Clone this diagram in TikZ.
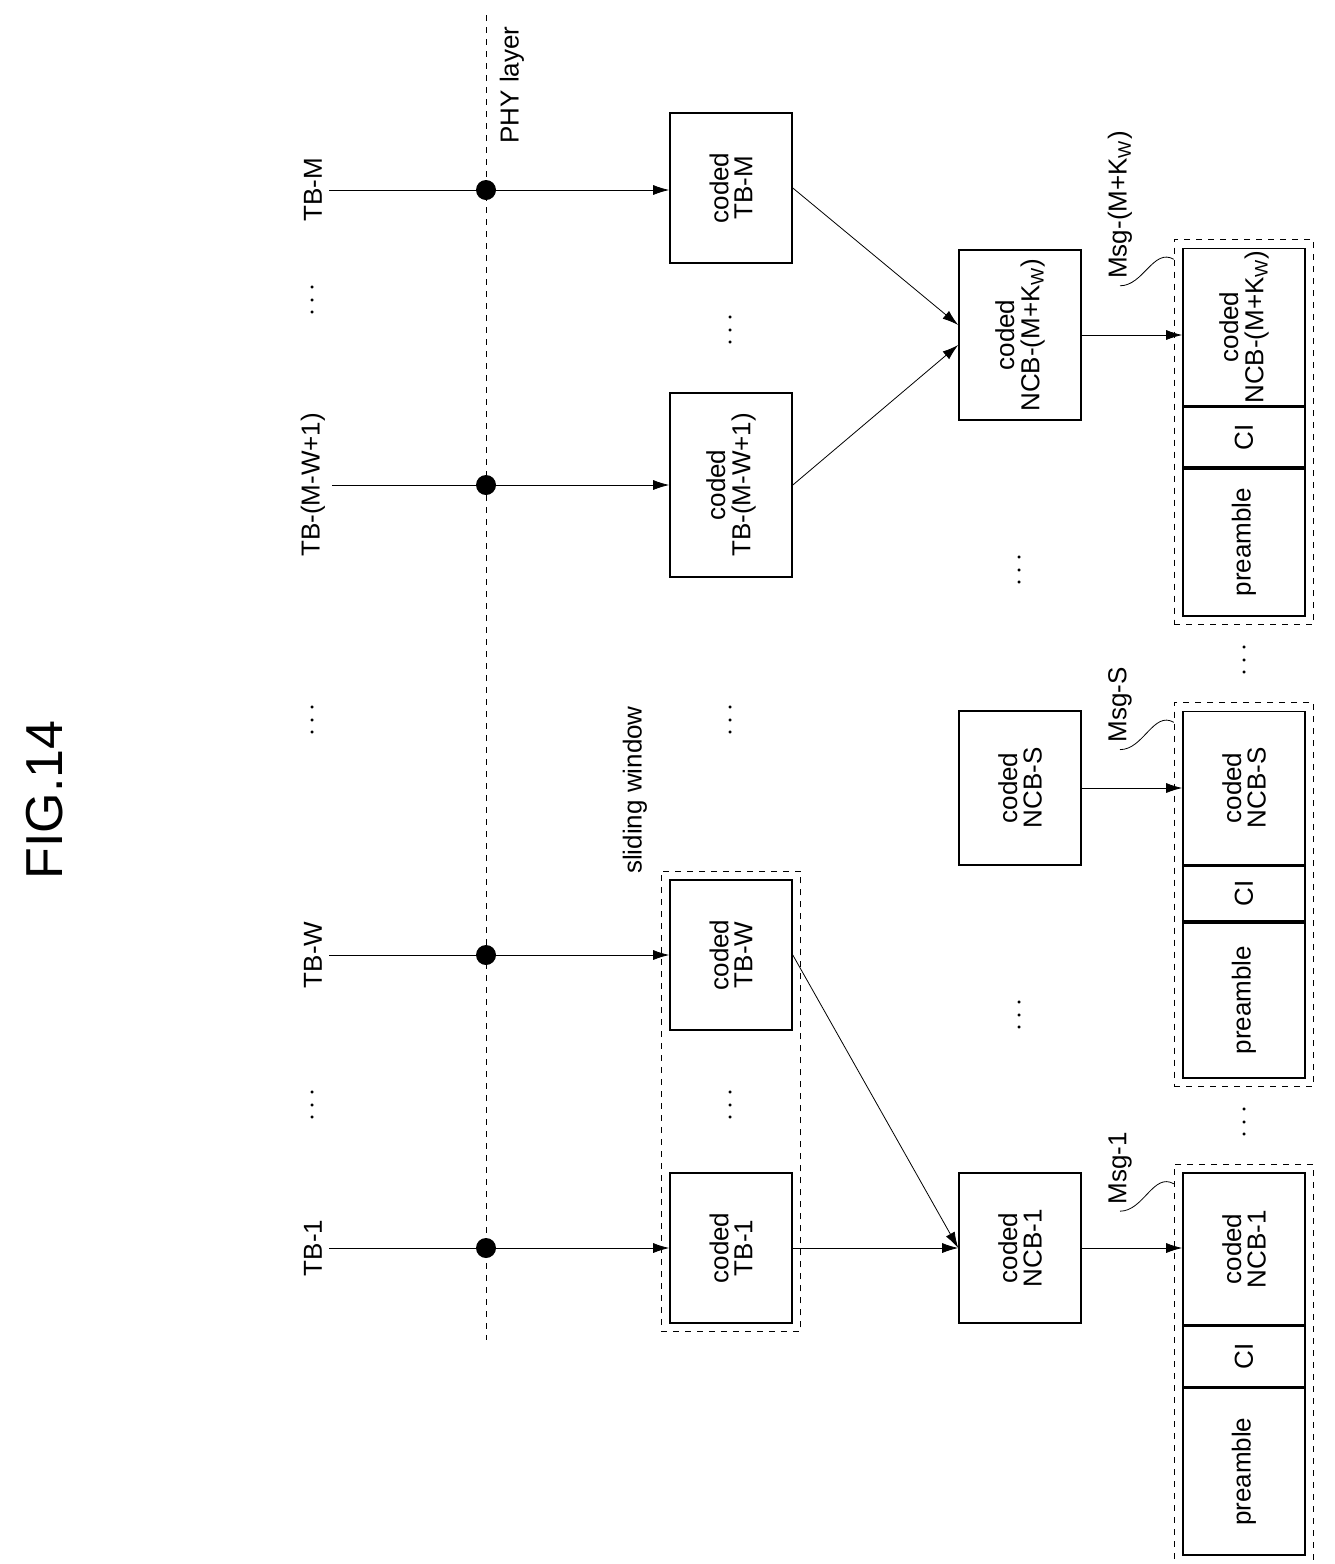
\documentclass[tikz,border=0pt]{standalone}
\usepackage{fontspec}
\setmainfont{Liberation Sans}
\usetikzlibrary{positioning,fit,arrows.meta}
\tikzset{
  box/.style={draw,thick,minimum width=61pt,inner sep=0pt,font=\fontsize{13}{14}\selectfont},
  seg/.style={draw,thick,minimum width=61pt,inner sep=0pt,font=\fontsize{13}{14}\selectfont},
  arr/.style={-{Latex[length=8pt,width=5pt]}},
  win/.style={draw,dashed,inner sep=4pt},
  lbl/.style={font=\fontsize{13}{14}\selectfont,rotate=90},
  vdots/.style={font=\fontsize{14}{14}\selectfont,rotate=90},
}
\newcommand{\rt}[1]{\rotatebox{90}{\shortstack{#1}}}
\begin{document}
\begin{tikzpicture}[x=0.5pt,y=-0.5pt]
  \useasboundingbox (0,0) rectangle (1334,1564);
  \node[font=\fontsize{26}{26}\selectfont,rotate=90] (fig) at (45,800) {FIG.14};
  % PHY layer
  \coordinate (phytop) at (486,15);
  \coordinate (phybot) at (486,1340);
  \draw[dashed] (phytop) -- (phybot);
  \node[lbl] (phy) at (512,85) {PHY layer};
  % transport blocks
  \node[lbl] (tbm) at (313,190) {TB-M};
  \node[vdots] at (313,300) {$\cdots$};
  \node[lbl] (tbw1) at (313,485) {TB-(M-W+1)};
  \node[vdots] at (313,720) {$\cdots$};
  \node[lbl] (tbw) at (313,955) {TB-W};
  \node[vdots] at (313,1105) {$\cdots$};
  \node[lbl] (tb1) at (313,1248) {TB-1};
  % coded TBs
  \node[box,minimum height=75pt] (ctbm) at (731,188) {\rt{coded\\TB-M}};
  \node[box,minimum height=92pt] (ctbw1) at (731,485) {\rt{coded\\TB-(M-W+1)}};
  \node[box,minimum height=75pt] (ctbw) at (731,955) {\rt{coded\\TB-W}};
  \node[box,minimum height=75pt] (ctb1) at (731,1248) {\rt{coded\\TB-1}};
  \node[vdots] at (731,330) {$\cdots$};
  \node[vdots] at (731,720) {$\cdots$};
  \node[vdots] at (731,1105) {$\cdots$};
  \node[win,fit=(ctbw)(ctb1)] (window) {};
  \node[lbl] (winlbl) at (635,790) {sliding window};
  \foreach \s/\t/\y in {tbm/ctbm/190,tbw1/ctbw1/485,tbw/ctbw/955,tb1/ctb1/1248}{
    \draw[arr] (\s.south) -- (\s.south -| \t.west);
    \fill (486,\y) circle[radius=5pt];
  }
  % coded NCBs
  \node[box,minimum height=85pt] (ncbm) at (1020,335) {\rt{coded\\NCB-(M+K$_\mathrm{W}$)}};
  \node[box,minimum height=77pt] (ncbs) at (1020,788) {\rt{coded\\NCB-S}};
  \node[box,minimum height=75pt] (ncb1) at (1020,1248) {\rt{coded\\NCB-1}};
  \node[vdots] at (1020,570) {$\cdots$};
  \node[vdots] at (1020,1015) {$\cdots$};
  \draw[arr] (ctbm.east) -- ([yshift=5pt]ncbm.west);
  \draw[arr] (ctbw1.east) -- ([yshift=-5pt]ncbm.west);
  \draw[arr] (ctbw.east) -- (ncb1.west);
  \draw[arr] (ctb1.east) -- (ncb1.west);
  % messages
  \node[seg,minimum height=78.5pt] (msgm) at (1244,327) {\rt{coded\\NCB-(M+K$_\mathrm{W}$)}};
  \node[seg,minimum height=30pt,below=0pt of msgm] (cim) {\rotatebox{90}{CI}};
  \node[seg,minimum height=73.5pt,below=0pt of cim] (prem) {\rotatebox{90}{preamble}};
  \node[seg,minimum height=76.5pt] (msgs) at (1244,788) {\rt{coded\\NCB-S}};
  \node[seg,minimum height=27.5pt,below=0pt of msgs] (cis) {\rotatebox{90}{CI}};
  \node[seg,minimum height=77.5pt,below=0pt of cis] (pres) {\rotatebox{90}{preamble}};
  \node[seg,minimum height=76pt] (msg1) at (1244,1249) {\rt{coded\\NCB-1}};
  \node[seg,minimum height=30pt,below=0pt of msg1] (ci1) {\rotatebox{90}{CI}};
  \node[seg,minimum height=83.5pt,below=0pt of ci1] (pre1) {\rotatebox{90}{preamble}};
  \node[win,fit=(msgm)(prem)] (winm) {};
  \node[win,fit=(msgs)(pres)] (wins) {};
  \node[win,fit=(msg1)(pre1)] (win1) {};
  \node[vdots] at (1245,660) {$\cdots$};
  \node[vdots] at (1245,1122) {$\cdots$};
  \draw[arr] (ncbm.east) -- (ncbm.east -| msgm.west);
  \draw[arr] (ncbs.east) -- (ncbs.east -| msgs.west);
  \draw[arr] (ncb1.east) -- (ncb1.east -| msg1.west);
  \node[lbl] (lblm) at (1120,205) {Msg-(M+K$_\mathrm{W}$)};
  \node[lbl] (lbls) at (1120,705) {Msg-S};
  \node[lbl] (lbl1) at (1120,1168) {Msg-1};
  \draw (lblm.west) to[out=0,in=150] ([yshift=-10pt]winm.north west);
  \draw (lbls.west) to[out=0,in=150] ([yshift=-10pt]wins.north west);
  \draw (lbl1.west) to[out=0,in=150] ([yshift=-10pt]win1.north west);
\end{tikzpicture}
\end{document}
